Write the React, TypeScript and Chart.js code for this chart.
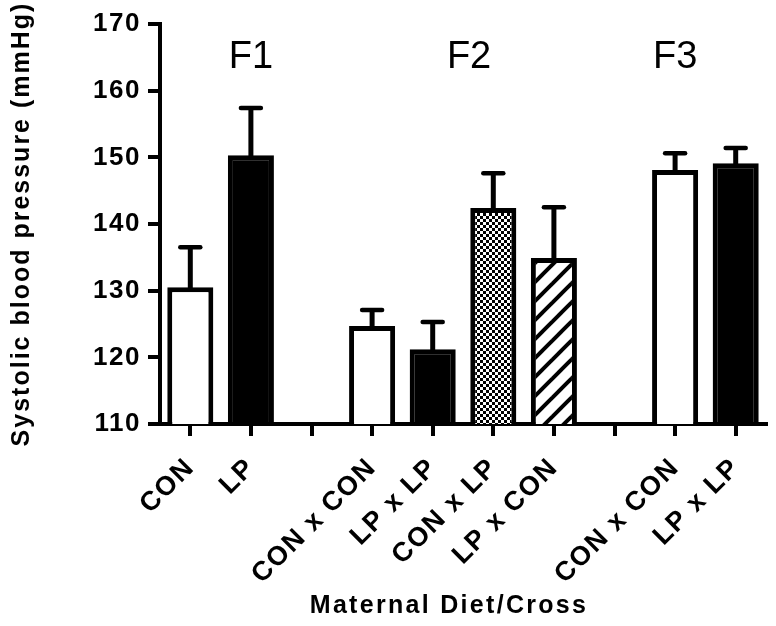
import React, { useEffect, useRef } from "react";
import { Chart, registerables } from "chart.js";

Chart.register(...registerables);

const categories = ["CON", "LP", "", "CON x CON", "LP x LP", "CON x LP", "LP x CON", "", "CON x CON", "LP x LP"];
const meanValues = [130.5, 150.3, null, 124.7, 121.2, 142.4, 134.9, null, 148.1, 149.1];
const errorTops = [136.5, 157.4, null, 127.1, 125.3, 147.6, 142.5, null, 150.6, 151.4];
const fillKinds = ["white", "black", null, "white", "black", "checker", "hatch", null, "white", "black"];
const generationLabels = ["F1", "F2", "F3"];
const generationPositions = [1, 4.6, 8];
const yMin = 110;
const yMax = 170;
const yStep = 10;
const yTitle = "Systolic blood pressure (mmHg)";
const xTitle = "Maternal Diet/Cross";

const FONT = "'Liberation Sans', Arial, sans-serif";

function makeChecker(): CanvasPattern | string {
  const c = document.createElement("canvas");
  c.width = 6;
  c.height = 6;
  const g = c.getContext("2d")!;
  g.fillStyle = "#fff";
  g.fillRect(0, 0, 6, 6);
  g.fillStyle = "#000";
  g.fillRect(0, 0, 3, 3);
  g.fillRect(3, 3, 3, 3);
  return g.createPattern(c, "repeat") || "#888";
}

function makeHatch(): CanvasPattern | string {
  const s = 19;
  const c = document.createElement("canvas");
  c.width = s;
  c.height = s;
  const g = c.getContext("2d")!;
  g.fillStyle = "#fff";
  g.fillRect(0, 0, s, s);
  g.strokeStyle = "#000";
  g.lineWidth = 4;
  for (const k of [0, s, 2 * s]) {
    g.beginPath();
    g.moveTo(-3, k + 3);
    g.lineTo(k + 3, -3);
    g.stroke();
  }
  return g.createPattern(c, "repeat") || "#888";
}

const spacingPlugin = {
  id: "spacing",
  beforeLayout(chart: any) {
    chart.ctx.letterSpacing = "1.5px";
  },
  beforeDraw(chart: any) {
    chart.ctx.letterSpacing = "1.5px";
  },
};

const overlayPlugin = {
  id: "overlay",
  afterDatasetsDraw(chart: any) {
    const ctx = chart.ctx;
    const meta = chart.getDatasetMeta(0);
    const yScale = chart.scales.y;
    ctx.save();
    ctx.strokeStyle = "#000";
    errorTops.forEach((top, i) => {
      if (top === null || meanValues[i] === null) return;
      const bar = meta.data[i];
      if (!bar) return;
      const x = bar.x;
      const yBar = bar.y;
      const yCap = yScale.getPixelForValue(top);
      ctx.lineCap = "butt";
      ctx.lineWidth = 5;
      ctx.beginPath();
      ctx.moveTo(x, yBar + 2);
      ctx.lineTo(x, yCap);
      ctx.stroke();
      ctx.lineCap = "round";
      ctx.lineWidth = 4.5;
      ctx.beginPath();
      ctx.moveTo(x - 10, yCap);
      ctx.lineTo(x + 10, yCap);
      ctx.stroke();
    });
    ctx.restore();
  },
  afterDraw(chart: any) {
    const ctx = chart.ctx;
    const xScale = chart.scales.x;
    const yScale = chart.scales.y;
    const area = chart.chartArea;
    ctx.save();
    ctx.fillStyle = "#000";
    ctx.textAlign = "center";
    ctx.textBaseline = "middle";
    ctx.letterSpacing = "0px";
    ctx.font = `38px ${FONT}`;
    generationLabels.forEach((lab, i) => {
      ctx.fillText(lab, xScale.getPixelForValue(generationPositions[i]), yScale.getPixelForValue(164.9));
    });
    ctx.font = `bold 25px ${FONT}`;
    ctx.letterSpacing = "2.3px";
    ctx.fillText(xTitle, 449, 606);
    ctx.save();
    ctx.translate(22, (area.top + area.bottom) / 2);
    ctx.rotate(-Math.PI / 2);
    ctx.letterSpacing = "2px";
    ctx.fillText(yTitle, 0, 0);
    ctx.restore();
    ctx.restore();
  },
};

export default function App() {
  const ref = useRef<HTMLCanvasElement | null>(null);
  useEffect(() => {
    if (!ref.current) return;
    const checker = makeChecker();
    const hatch = makeHatch();
    const bg = fillKinds.map((k) =>
      k === "black" ? "#000" : k === "checker" ? checker : k === "hatch" ? hatch : "#fff"
    );
    const chart = new Chart(ref.current, {
      type: "bar",
      data: {
        labels: categories,
        datasets: [
          {
            data: meanValues as any,
            backgroundColor: bg as any,
            borderColor: "#000",
            borderWidth: 5,
            borderSkipped: "bottom",
            barPercentage: 0.76,
            categoryPercentage: 1,
          },
        ],
      },
      options: {
        animation: false,
        responsive: false,
        devicePixelRatio: 1,
        layout: { padding: { left: 0, top: 24, right: 10, bottom: 0 } },
        plugins: {
          legend: { display: false },
          tooltip: { enabled: false },
        },
        scales: {
          x: {
            grid: {
              display: true,
              offset: false,
              drawOnChartArea: false,
              drawTicks: true,
              tickLength: 12,
              lineWidth: 4,
              color: "#000",
            },
            border: { display: true, width: 4, color: "#000" },
            ticks: {
              autoSkip: false,
              minRotation: 45,
              maxRotation: 45,
              color: "#000",
              padding: 16,
              font: { family: FONT, size: 27, weight: "bold" },
            },
            afterFit(scale: any) {
              scale.height = 202;
            },
          },
          y: {
            min: yMin,
            max: yMax,
            ticks: {
              stepSize: yStep,
              color: "#000",
              padding: 7,
              font: { family: FONT, size: 26, weight: "bold" },
            },
            grid: {
              display: true,
              drawOnChartArea: false,
              drawTicks: true,
              tickLength: 12,
              lineWidth: 4,
              color: "#000",
            },
            border: { display: true, width: 4, color: "#000" },
            afterFit(scale: any) {
              scale.width = 160;
            },
          },
        },
      },
      plugins: [spacingPlugin, overlayPlugin],
    });
    return () => chart.destroy();
  }, []);
  return (
    <div style={{ position: "fixed", left: 0, top: 0, width: 776, height: 626, background: "#fff" }}>
      <canvas ref={ref} width={776} height={626} />
    </div>
  );
}
